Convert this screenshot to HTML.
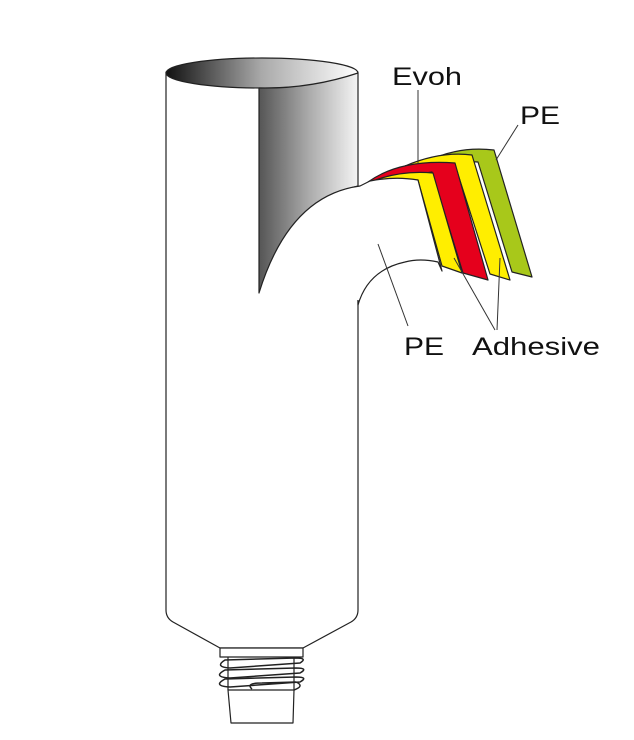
<!DOCTYPE html>
<html><head><meta charset="utf-8"><style>
html,body{margin:0;padding:0;background:#fff;}
svg{display:block;}
text{font-family:"Liberation Sans",sans-serif;fill:#111;}
</style></head><body>
<svg width="634" height="740" viewBox="0 0 634 740" xmlns="http://www.w3.org/2000/svg">
<defs>
<linearGradient id="g1" x1="0" x2="1" y1="0" y2="0">
<stop offset="0" stop-color="#111"/><stop offset="0.5" stop-color="#aaa"/><stop offset="1" stop-color="#fff"/>
</linearGradient>
<linearGradient id="g2" x1="0" x2="1" y1="0" y2="0">
<stop offset="0" stop-color="#555"/><stop offset="0.5" stop-color="#aaa"/><stop offset="1" stop-color="#f4f4f4"/>
</linearGradient>
</defs>
<g stroke="#222" stroke-width="1.2" fill="#fff" stroke-linejoin="round">
<path d="M166 72 L166 610 Q166 618 173 622 L220 648 L303 648 L351 622 Q358 618 358 610 L358 300"/>
<ellipse cx="262" cy="73" rx="96" ry="15" fill="url(#g1)"/>
<path d="M259 88 Q310 89 358 73 L358 186 Q300 200 259 293 Z" fill="url(#g2)"/>
<path d="M430 160 Q460 146 494 150 L532 277 L512 272 L478 162 Z" fill="#a8c81a"/>
<path d="M405 166 Q440 151 472 155 L510 280 L490 274 L456 168 Z" fill="#ffee00"/>
<path d="M368 182 Q400 159 455 163 L488 280 L463 273 L432 172 Z" fill="#e5001c"/>
<path d="M370 182 Q400 170 433 173 L462 273 L442 266 L418 180 Z" fill="#ffee00"/>
<path d="M259 293 C280 225 315 192 360 186 L370 181 Q395 176 418 180 L442 271 L438 262 Q420 258 405 262 Q368 270 358 305 L358 300" fill="#fff"/>
<path d="M220 648 L303 648 L303 657 L220 657 Z"/>
<path d="M228 690 L294 690 L293 723 L231 723 Z"/>
<path d="M228 657 L228 690 M294 657 L294 690" fill="none"/>
<g fill="none" stroke-width="1.5">
<path d="M225 660 Q214 667 230 668 L300 663 Q308 658 296 658 Z"/>
<path d="M225 670 Q212 677 230 678 L300 673 Q309 668 296 668 Z"/>
<path d="M225 679 Q212 686 230 687 L300 682 Q309 677 296 677 Z"/>
<path d="M252 689 Q245 683 262 683 L296 682 Q305 686 294 690"/>
</g>
</g>
<g stroke="#333" stroke-width="1" fill="none">
<line x1="418" y1="90" x2="418" y2="164"/>
<line x1="518" y1="125" x2="496" y2="160"/>
<line x1="378" y1="244" x2="408" y2="326"/>
<line x1="495" y1="330" x2="454" y2="258"/>
<line x1="497" y1="330" x2="500" y2="258"/>
</g>
<text x="392" y="85" font-size="25" textLength="70" lengthAdjust="spacingAndGlyphs">Evoh</text>
<text x="520" y="124" font-size="25" textLength="40" lengthAdjust="spacingAndGlyphs">PE</text>
<text x="404" y="355" font-size="25" textLength="40" lengthAdjust="spacingAndGlyphs">PE</text>
<text x="472" y="355" font-size="25" textLength="128" lengthAdjust="spacingAndGlyphs">Adhesive</text>
</svg>
</body></html>
